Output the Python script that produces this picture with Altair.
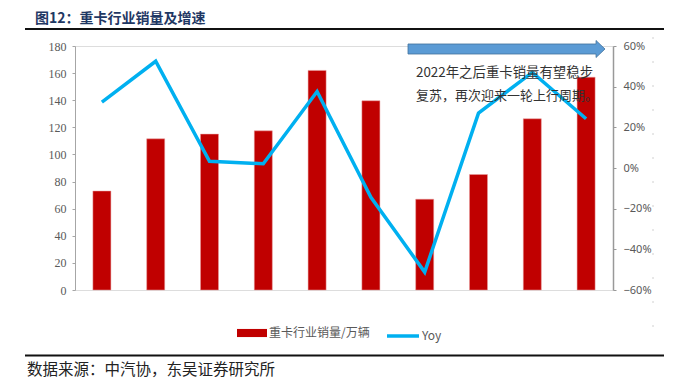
import altair as alt
import pandas as pd

years = ["2016", "2017", "2018", "2019", "2020", "2021", "2022", "2023E", "2024E", "2025E"]
sales = [73, 111.5, 115, 117.4, 162, 139.6, 67, 85.2, 126.3, 157]
yoy = [0.324, 0.525, 0.033, 0.021, 0.376, -0.144, -0.512, 0.27, 0.47, 0.242]
bar_label = "重卡行业销量/万辆"
line_label = "Yoy"
title_text = "图12：重卡行业销量及增速"
source_text = "数据来源：中汽协，东吴证券研究所"
note_lines = ["2022年之后重卡销量有望稳步", "复苏，再次迎来一轮上行周期。"]

df = pd.DataFrame({"year": years, "sales": sales, "yoy": yoy,
                   "s1": [bar_label] * len(years), "s2": [line_label] * len(years)})
one = pd.DataFrame({"k": [0]})

CJK = "Noto Sans CJK SC, Noto Sans, sans-serif"
W, H = 538, 244

bars = alt.Chart(df).mark_bar(stroke="#e8a0a0", strokeWidth=0.5).encode(
    x=alt.X("year:N", sort=None, title=None,
            scale=alt.Scale(paddingInner=0.665, paddingOuter=0.3325),
            axis=alt.Axis(labelAngle=0, tickBand="extent", domainColor="#A6A6A6",
                          tickColor="#A6A6A6", tickSize=4, labelPadding=3,
                          labelFont="Liberation Serif", labelFontSize=12,
                          labelColor="#595959")),
    y=alt.Y("sales:Q", title=None,
            scale=alt.Scale(domain=[0, 180], nice=False),
            axis=alt.Axis(values=list(range(0, 181, 20)), grid=False,
                          domainColor="#A6A6A6", tickColor="#A6A6A6", tickSize=3,
                          labelPadding=6, labelFont="Liberation Serif",
                          labelFontSize=12, labelColor="#595959")),
    color=alt.Color("s1:N", scale=alt.Scale(domain=[bar_label], range=["#C00000"]),
                    legend=alt.Legend(title=None, orient="none", legendX=162, legendY=272,
                                      symbolType="M-1,-0.27H1V0.27H-1Z", symbolSize=900,
                                      symbolStrokeWidth=0, labelFont=CJK,
                                      labelFontSize=12, labelColor="#595959",
                                      labelOffset=2, padding=0)),
)

line = alt.Chart(df).mark_line(strokeWidth=3.5).encode(
    x=alt.X("year:N", sort=None, title=None,
            scale=alt.Scale(paddingInner=0.665, paddingOuter=0.3325), axis=None),
    y=alt.Y("yoy:Q", title=None,
            scale=alt.Scale(domain=[-0.6, 0.6], nice=False),
            axis=alt.Axis(orient="right", format=".0%",
                          values=[-0.6, -0.4, -0.2, 0, 0.2, 0.4, 0.6], grid=False,
                          domainColor="#999999", domainWidth=1.5, tickColor="#999999",
                          tickSize=3, labelPadding=7, labelFont="Noto Sans",
                          labelFontSize=11, labelColor="#595959")),
    color=alt.Color("s2:N", scale=alt.Scale(domain=[line_label], range=["#00B0F0"]),
                    legend=alt.Legend(title=None, orient="none", legendX=310, legendY=272,
                                      symbolType="stroke", symbolSize=1024,
                                      symbolStrokeWidth=3.5, labelFont=CJK,
                                      labelFontSize=12, labelColor="#595959",
                                      labelOffset=1, padding=0)),
)

arrow_path = "M-1,-0.0508L0.909,-0.0508L0.909,-0.0863L1,0L0.909,0.0863L0.909,0.0508L-1,0.0508Z"
arrow = alt.Chart(one).mark_point(shape=arrow_path, filled=True, fill="#5B9BD5",
                                  stroke="#41719C", strokeWidth=0.8, opacity=1,
                                  size=38809).encode(
    x=alt.value(431.5), y=alt.value(3)
)


def text_layer(txt, x, y, size, weight="normal", color="#404040"):
    d = pd.DataFrame({"t": [txt]})
    return alt.Chart(d).mark_text(align="left", baseline="middle", font=CJK,
                                  fontSize=size, fontWeight=weight, color=color).encode(
        text="t:N", x=alt.value(x), y=alt.value(y))


note1 = text_layer(note_lines[0], 341, 26.5, 13.4, "normal", "#333333")
note2 = text_layer(note_lines[1], 341, 49.5, 13, "normal", "#333333")
title = text_layer(title_text, -40, -27, 14, "bold", "#1F3864")
source = text_layer(source_text, -48, 324, 15.5, "normal", "#222222")

top_rule = alt.Chart(one).mark_rule(color="#111111", strokeWidth=1.8).encode(
    x=alt.value(-50), x2=alt.value(589), y=alt.value(-17))
bot_rule = alt.Chart(one).mark_rule(color="#111111", strokeWidth=1.8).encode(
    x=alt.value(-50), x2=alt.value(589), y=alt.value(309.5))
dash_rule = alt.Chart(one).mark_rule(color="#D0D0D0", strokeWidth=1, strokeDash=[2, 22]).encode(
    x=alt.value(578), y=alt.value(-9), y2=alt.value(300))

chart = alt.layer(bars, line, note1, note2, arrow, title, source, top_rule, bot_rule,
                  dash_rule).resolve_scale(y="independent", color="independent").properties(
    width=W, height=H,
    autosize=alt.AutoSizeParams(type="none"),
    padding={"left": 67, "top": 38, "right": 54, "bottom": 92},
).configure_view(stroke=None).configure(background="white")

chart.save("out.html", embed_options={"renderer": "svg", "actions": False})
